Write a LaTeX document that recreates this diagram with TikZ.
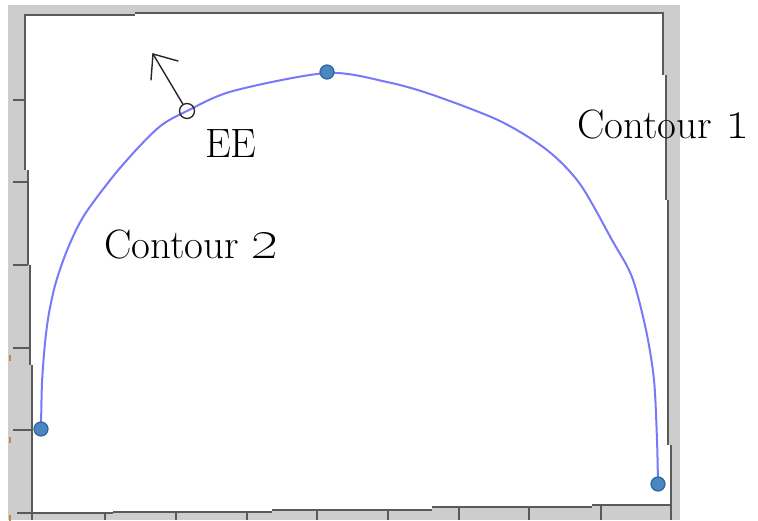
\documentclass[tikz,border=0pt]{standalone}
\usepackage{graphicx}
\usetikzlibrary{calc}
\definecolor{bandgray}{HTML}{CDCDCD}
\definecolor{framedark}{HTML}{5A5A5A}
\definecolor{curveblue}{HTML}{7878FA}
\definecolor{dotfill}{HTML}{4A86C0}
\definecolor{dotedge}{HTML}{2F6599}
\definecolor{tickorange}{HTML}{C8894A}
\newcommand{\bigosn}[1]{\scalebox{1.65}{\oldstylenums{#1}}}
\tikzset{
  band/.style={fill=bandgray,draw=none},
  frameline/.style={draw=framedark,line width=2.2pt},
  tickline/.style={draw=framedark,line width=2pt},
  contour/.style={draw=curveblue,line width=2pt,line join=round,line cap=round},
  enddot/.style={circle,fill=dotfill,draw=dotedge,line width=1.2pt,minimum size=14pt,inner sep=0pt},
  eecircle/.style={circle,draw=black!85,line width=1.3pt,minimum size=15pt,inner sep=0pt},
  handarrow/.style={draw=black!85,line width=1.4pt,line cap=round},
  lbl/.style={font=\fontsize{41}{48}\selectfont,anchor=base west,inner sep=0pt,text=black},
}
\begin{document}
\begin{tikzpicture}[x=1pt,y=-1pt]
\useasboundingbox (0,0) rectangle (758,520);
\fill[white] (0,0) rectangle (758,520);
% gray bands of the frame
\fill[band] (8,5) rectangle (680,520);
\fill[white] (25,15) -- (135,15) -- (135,13) -- (663,13) -- (663,75) -- (666,75) -- (666,200)
  -- (668,200) -- (668,445) -- (671,445) -- (671,505) -- (592,505) -- (592,507) -- (432,507)
  -- (432,510) -- (272,510) -- (272,512) -- (113,512) -- (113,513) -- (32,513) -- (32,365)
  -- (30,365) -- (30,265) -- (28,265) -- (28,170) -- (25,170) -- cycle;
% dark frame lines
\draw[frameline] (25,170) -- (25,15) -- (135,15);
\draw[frameline] (135,13) -- (663,13) -- (663,75);
\draw[frameline] (666,75) -- (666,200);
\draw[frameline] (668,200) -- (668,445);
\draw[frameline] (671,445) -- (671,520);
\draw[frameline] (28,170) -- (28,265);
\draw[frameline] (30,265) -- (30,365);
\draw[frameline] (32,365) -- (32,520);
\draw[frameline] (17,513) -- (113,513);
\draw[frameline] (113,512) -- (272,512);
\draw[frameline] (272,510) -- (432,510);
\draw[frameline] (432,507) -- (592,507);
\draw[frameline] (592,505) -- (671,505);
% ticks
\foreach \yy/\xx in {100/25,182/28,265/28,348/30,430/32}
  \draw[tickline] (13,\yy) -- (\xx,\yy);
\foreach \xx/\yy in {105/513,176/512,247/512,317/510,388/510,459/507,529/507,601/505}
  \draw[tickline] (\xx,\yy) -- (\xx,520);
\foreach \yy in {355,437,515}
  \draw[tickorange,line width=1.2pt] (10,\yy) -- (10,\yy+6);
% contour curve
\draw[contour] plot[smooth,tension=0.5] coordinates {
  (41,429) (42,383) (45,343) (49,313) (56,282) (68,248) (85,214)
  (120,168) (158,128) (187,111) (233,91) (327,73)
  (387,82) (433,95) (500,121) (547,150) (580,184)
  (612,240) (632,277) (646,330) (654,380) (657,440) (658,484)};
% points
\node[enddot] (p1) at (41,429) {};
\node[enddot] (p2) at (327,72) {};
\node[enddot] (p3) at (658,484) {};
% EE marker and arrow
\node[eecircle] (ee) at (187,111) {};
\coordinate (tip) at (153,54);
\coordinate (barbA) at (151,80);
\coordinate (barbB) at (178,61);
\draw[handarrow] (ee) -- (tip);
\draw[handarrow] (tip) -- (barbA);
\draw[handarrow] (tip) -- (barbB);
% labels
\node[lbl] (lee) at (205,157) {EE};
\node[lbl] (lc2) at (104,258) {Contour \bigosn{2}};
\node[lbl] (lc1) at (577,138) {Contour \bigosn{1}};
\end{tikzpicture}
\end{document}
